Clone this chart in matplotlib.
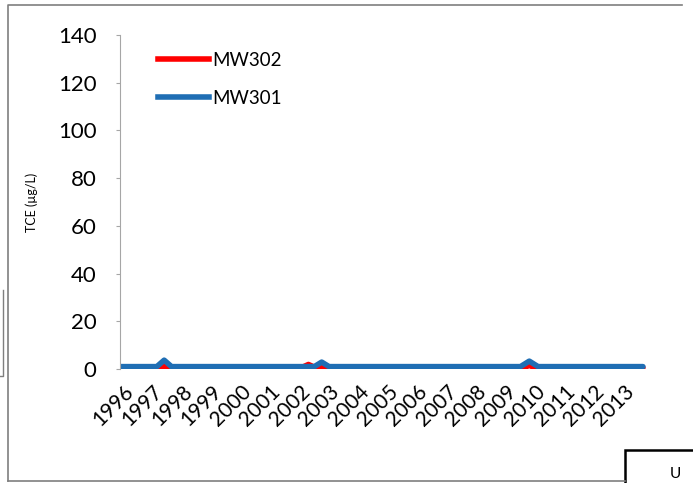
import matplotlib.pyplot as plt
from matplotlib.patches import Rectangle
from matplotlib.lines import Line2D

plt.rcParams['font.family'] = ['Lato', 'DejaVu Sans']

years = list(range(1996, 2014))

# sampling dates (decimal year) and TCE results, ug/L
mw301_dates = [1996.0, 1997.25, 1997.5, 1997.75, 2002.6, 2002.85, 2003.1,
               2009.6, 2009.9, 2010.2, 2013.76]
mw301_tce = [1.0, 1.0, 3.7, 1.0, 1.0, 2.9, 1.0, 1.0, 3.3, 1.0, 1.0]

mw302_dates = [1996.0, 1997.3, 1997.5, 1997.7, 2002.15, 2002.4, 2002.65,
               2009.7, 2009.9, 2010.1, 2013.76]
mw302_tce = [0.5, 0.5, 1.2, 0.5, 0.5, 1.9, 0.5, 0.5, 1.5, 0.5, 0.5]

W, H = 693, 483
fig = plt.figure(figsize=(W / 100, H / 100), dpi=100)
ax = fig.add_axes([120 / W, (H - 369) / H, 530 / W, 334 / H])

ax.plot(mw302_dates, mw302_tce, color='#FF0000', lw=4, solid_capstyle='round', label='MW302')
ax.plot(mw301_dates, mw301_tce, color='#1F6EB4', lw=4, solid_capstyle='round', label='MW301')

ax.set_xlim(1996, 2014)
ax.set_ylim(0, 140)
ax.set_yticks(range(0, 141, 20))
ax.set_xticks([y + 0.1 for y in years])
ax.set_xticklabels([str(y) for y in years], rotation=45, ha='right', va='top',
                   rotation_mode='anchor', fontsize=15)
ax.tick_params(axis='y', labelsize=16, length=3, color='#A6A6A6', pad=14)
ax.tick_params(axis='x', length=0, pad=9)
for s in ['top', 'right', 'bottom']:
    ax.spines[s].set_visible(False)
ax.spines['left'].set_color('#A6A6A6')
ax.set_ylabel('TCE (µg/L)', fontsize=9)
ax.yaxis.set_label_coords(-0.155, 0.5)

handles = [Line2D([], [], color='#FF0000', lw=4), Line2D([], [], color='#1F6EB4', lw=4)]
ax.legend(handles, ['MW302', 'MW301'], loc='upper left', bbox_to_anchor=(0.058, 0.973),
          frameon=False, fontsize=13.5, handlelength=2.7, handletextpad=0.2,
          labelspacing=1.12, borderaxespad=0)

# surrounding page frames
fig.add_artist(Line2D([8 / W, 8 / W, 682 / W], [(H - 481) / H, (H - 5) / H, (H - 5) / H],
                      transform=fig.transFigure, color='#7F7F7F', lw=1.2))
fig.add_artist(Line2D([8 / W, 625 / W], [(H - 481) / H, (H - 481) / H],
                      transform=fig.transFigure, color='#7F7F7F', lw=1.2))
fig.add_artist(Line2D([0, 3 / W, 3 / W], [(H - 376) / H, (H - 376) / H, (H - 290) / H],
                      transform=fig.transFigure, color='#7F7F7F', lw=1.0))
fig.add_artist(Rectangle((625 / W, -0.01), 0.2, (H - 450) / H + 0.01,
                         transform=fig.transFigure, fill=False, ec='black', lw=1.8))
fig.text(670 / W, (H - 467) / H, 'U', fontsize=11, va='top', ha='left')

fig.savefig('out.png', dpi=100)
